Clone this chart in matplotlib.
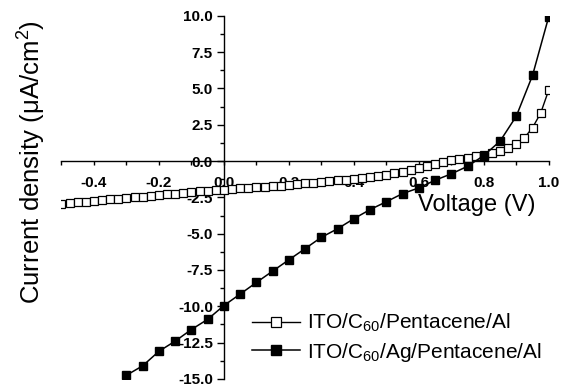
import numpy as np
import matplotlib
matplotlib.use('Agg')
import matplotlib.pyplot as plt
from matplotlib.ticker import MultipleLocator

plt.rcParams['font.family'] = ['Liberation Sans', 'DejaVu Sans']
plt.rcParams['mathtext.fontset'] = 'custom'
plt.rcParams['mathtext.rm'] = 'Liberation Sans'
plt.rcParams['mathtext.it'] = 'Liberation Sans'
plt.rcParams['mathtext.default'] = 'regular'

# ITO/C60/Pentacene/Al (open squares), 0.025 V steps
v_open = np.arange(61) * 0.025 - 0.5
j_open = [-2.93, -2.88, -2.83, -2.79, -2.74, -2.69, -2.64, -2.59, -2.55, -2.50,
          -2.45, -2.40, -2.35, -2.30, -2.25, -2.20, -2.15, -2.09, -2.04, -2.00,
          -1.96, -1.92, -1.88, -1.84, -1.80, -1.77, -1.73, -1.69, -1.64, -1.59,
          -1.54, -1.49, -1.44, -1.38, -1.33, -1.27, -1.21, -1.15, -1.08, -1.01,
          -0.94, -0.85, -0.74, -0.62, -0.48, -0.34, -0.20, -0.07, 0.04, 0.14,
          0.23, 0.32, 0.42, 0.54, 0.68, 0.88, 1.15, 1.6, 2.3, 3.3, 4.9]

# ITO/C60/Ag/Pentacene/Al (filled squares), 0.05 V steps
v_fill = np.arange(27) * 0.05 - 0.3
j_fill = [-14.75, -14.1, -13.1, -12.4, -11.6, -10.9, -9.95, -9.16, -8.36, -7.58,
          -6.8, -6.03, -5.25, -4.66, -3.97, -3.34, -2.8, -2.24, -1.85, -1.32,
          -0.88, -0.36, 0.38, 1.37, 3.09, 5.9, 9.95]

fig = plt.figure(figsize=(5.64, 3.87), dpi=100)
ax = fig.add_axes([0.109, 0.021, 0.864, 0.938])

ax.plot(v_open, j_open, '-s', color='black', mfc='white', mec='black', ms=6,
        mew=0.9, lw=1.0, zorder=3, label='ITO/C$_{60}$/Pentacene/Al')
ax.plot(v_fill, j_fill, '-s', color='black', mfc='black', ms=6.3, lw=1.1,
        zorder=4, label='ITO/C$_{60}$/Ag/Pentacene/Al')

ax.set_xlim(-0.5, 1.0)
ax.set_ylim(-15, 10)
ax.spines['left'].set_position(('data', 0))
ax.spines['bottom'].set_position(('data', 0))
ax.spines['top'].set_visible(False)
ax.spines['right'].set_visible(False)
for s in ['left', 'bottom']:
    ax.spines[s].set_linewidth(1.0)

ax.xaxis.set_major_locator(MultipleLocator(0.2))
ax.xaxis.set_minor_locator(MultipleLocator(0.1))
ax.yaxis.set_major_locator(MultipleLocator(2.5))
ax.yaxis.set_minor_locator(MultipleLocator(1.25))
ax.xaxis.set_major_formatter(plt.FormatStrFormatter('%.1f'))
ax.yaxis.set_major_formatter(plt.FormatStrFormatter('%.1f'))
ax.tick_params(axis='x', which='major', direction='out', length=3, width=1, pad=8)
ax.tick_params(axis='x', which='minor', direction='out', length=3, width=1)
ax.tick_params(axis='y', which='major', direction='out', length=5, width=1, pad=3)
ax.tick_params(axis='y', which='minor', direction='out', length=3, width=1)
for lab in ax.get_xticklabels() + ax.get_yticklabels():
    lab.set_fontsize(11)
    lab.set_fontweight('bold')

ax.text(0.852, 0.479, 'Voltage (V)', transform=ax.transAxes, ha='center',
        va='center', fontsize=17)
fig.text(32 / 564, 1 - 162 / 387, 'Current density (\u03bcA/cm$^2$)', rotation=90,
         ha='center', va='center', fontsize=18.5)

ax.legend(loc='center left', bbox_to_anchor=(0.391, 0.113), frameon=False,
          fontsize=15, numpoints=1, handlelength=2.3, handletextpad=0.35,
          labelspacing=0.3, borderpad=0, borderaxespad=0, markerscale=1.15)

fig.savefig('out.png', dpi=100)
